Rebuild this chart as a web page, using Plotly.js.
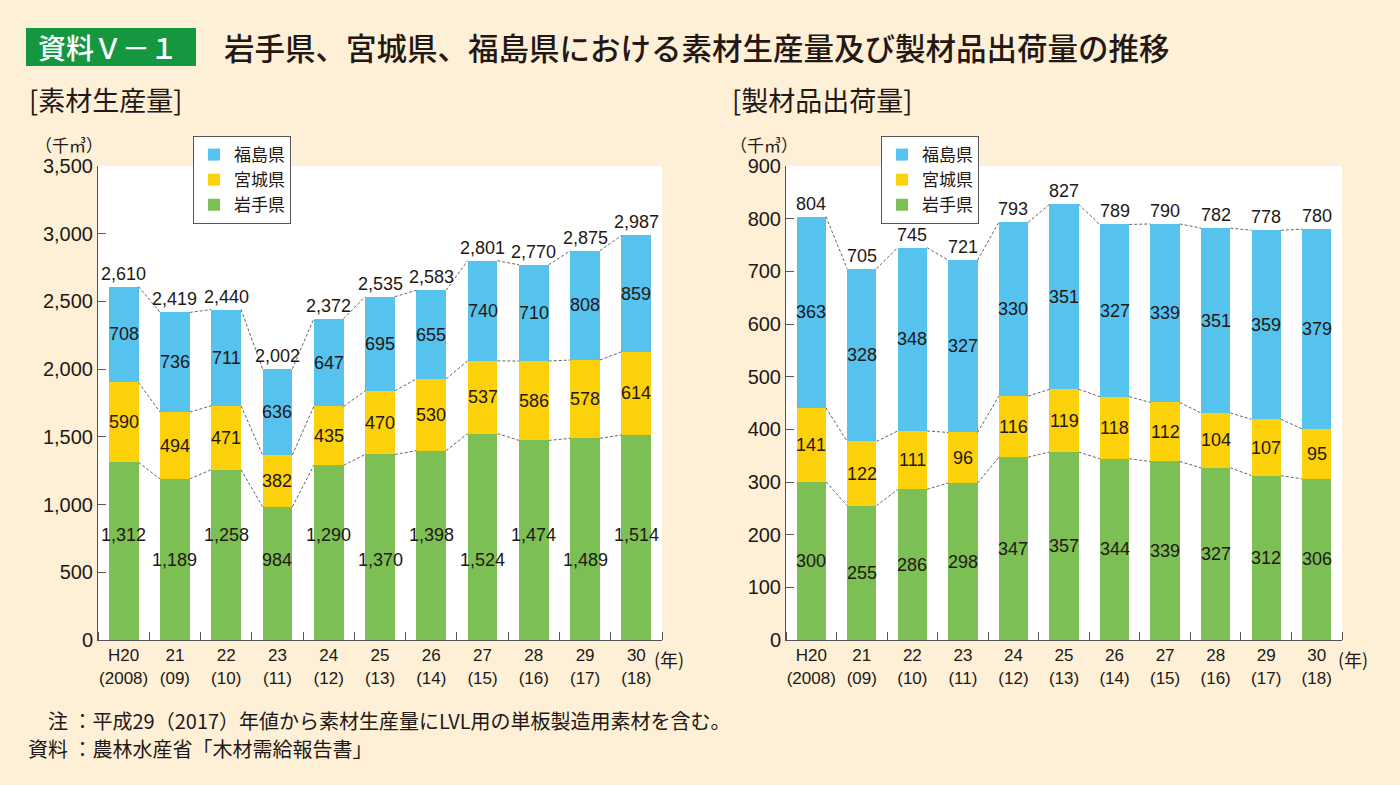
<!DOCTYPE html>
<html><head><meta charset="utf-8">
<script src="https://cdn.plot.ly/plotly-3.0.1.min.js"></script>
<style>html,body{margin:0;padding:0;background:#fdf0d6;} #chart{width:1400px;height:785px;}</style>
</head><body><div id="chart"></div>
<script>
// ---- data ----
const years = ['H20<br>(2008)','21<br>(09)','22<br>(10)','23<br>(11)','24<br>(12)','25<br>(13)','26<br>(14)','27<br>(15)','28<br>(16)','29<br>(17)','30<br>(18)'];
const seriesNames = ['岩手県','宮城県','福島県'];
// 素材生産量 (千m3)
const prodIwate     = [1312,1189,1258,984,1290,1370,1398,1524,1474,1489,1514];
const prodMiyagi    = [590,494,471,382,435,470,530,537,586,578,614];
const prodFukushima = [708,736,711,636,647,695,655,740,710,808,859];
const prodTotal     = [2610,2419,2440,2002,2372,2535,2583,2801,2770,2875,2987];
// 製材品出荷量 (千m3)
const shipIwate     = [300,255,286,298,347,357,344,339,327,312,306];
const shipMiyagi    = [141,122,111,96,116,119,118,112,104,107,95];
const shipFukushima = [363,328,348,327,330,351,327,339,351,359,379];
const shipTotal     = [804,705,745,721,793,827,789,790,782,778,780];

// ---- style ----
const COLORS = ['#7cbf55','#fdd10a','#56c2ee'];
const BG = '#fdf0d6';
const TXT = '#231815';
const JP = 'Noto Sans CJK JP, sans-serif';
const NUM = 'Liberation Sans, Arial, Noto Sans CJK JP, sans-serif';
const W = 0.58;
const X = years.map((_, i) => i);
const px = x => x / 1400, py = y => 1 - y / 785;
const fmt = v => v.toLocaleString('en-US');

const traces = [];
const annotations = [];

function panel(xa, ya, legend, showLegend, series, totals, iwateLabelY) {
  const cum = [];
  let base = X.map(() => 0);
  series.forEach((vals, k) => {
    traces.push({
      type: 'bar', x: X, y: vals, width: W, name: seriesNames[k],
      marker: {color: COLORS[k], line: {width: 0}},
      xaxis: xa, yaxis: ya, legend: legend, showlegend: showLegend, hoverinfo: 'skip'
    });
    const top = vals.map((v, i) => base[i] + v);
    vals.forEach((v, i) => {
      const yv = (k === 0 && iwateLabelY) ? iwateLabelY(i) : base[i] + v / 2;
      annotations.push({x: i, y: yv, xref: xa, yref: ya, text: fmt(v), showarrow: false,
        font: {size: 18, color: TXT, family: NUM}});
    });
    cum.push(top);
    base = top;
  });
  cum.forEach(top => {
    const xs = [], ys = [];
    for (let i = 0; i < top.length - 1; i++) {
      xs.push(i + W / 2, i + 1 - W / 2, null);
      ys.push(top[i], top[i + 1], null);
    }
    traces.push({type: 'scatter', mode: 'lines', x: xs, y: ys, xaxis: xa, yaxis: ya,
      line: {color: '#666', width: 1, dash: '3px,2px'}, showlegend: false, hoverinfo: 'skip'});
  });
  totals.forEach((v, i) => {
    annotations.push({x: i, y: v, xref: xa, yref: ya, text: fmt(v), showarrow: false,
      yanchor: 'bottom', yshift: 1, font: {size: 18, color: TXT, family: NUM}});
  });
}

panel('x', 'y', 'legend', true, [prodIwate, prodMiyagi, prodFukushima], prodTotal,
      i => (i % 2 === 0 ? 775 : 590));
panel('x2', 'y2', 'legend2', true, [shipIwate, shipMiyagi, shipFukushima], shipTotal, null);

const bounds = X.map(i => i - 0.5).concat([X.length - 0.5]);
function xax(dom, anchor) {
  return {domain: dom, anchor: anchor, range: [-0.5, 10.5], tickmode: 'array', tickvals: X, ticktext: years,
    ticks: '', showline: true, linecolor: '#555', linewidth: 1, showgrid: false, zeroline: false,
    tickfont: {size: 17, color: TXT, family: NUM}, fixedrange: true,
    minor: {tickmode: 'array', tickvals: bounds, ticks: 'inside', ticklen: 8, tickcolor: '#555', tickwidth: 1, showgrid: false}};
}
function yax(dom, anchor, max, dt) {
  return {domain: dom, anchor: anchor, range: [0, max], dtick: dt, tickformat: ',',
    ticks: 'inside', ticklen: 8, tickcolor: '#555', showline: true, linecolor: '#555', linewidth: 1,
    showgrid: false, zeroline: false, tickfont: {size: 20, color: TXT, family: NUM}, fixedrange: true};
}

const txt = (x, y, text, size, opts) => Object.assign({xref: 'paper', yref: 'paper', x: px(x), y: py(y),
  text: text, showarrow: false, xanchor: 'left', yanchor: 'middle', font: {size: size, color: TXT, family: JP}}, opts || {});
annotations.push(
  txt(36, 47, '資料Ｖ－１', 28, {font: {size: 28, color: '#ffffff', family: JP, weight: 500}}),
  txt(222, 47, '岩手県、宮城県、福島県における素材生産量及び製材品出荷量の推移', 30.5, {font: {size: 30.5, color: TXT, family: JP, weight: 500}}),
  txt(27, 100, '[素材生産量]', 27),
  txt(730, 100, '[製材品出荷量]', 27),
  txt(33, 145, '（千㎥）', 17),
  txt(728, 145, '（千㎥）', 17),
  txt(652, 659, '(年)', 18),
  txt(1336, 659, '(年)', 18),
  txt(26, 720, '　注 ：平成29（2017）年値から素材生産量にLVL用の単板製造用素材を含む。', 20),
  txt(26, 748, '資料 ：農林水産省「木材需給報告書」', 20)
);

const legendStyle = (x) => ({x: px(x), y: py(136), xanchor: 'left', yanchor: 'top', traceorder: 'reversed',
  bgcolor: '#ffffff', bordercolor: '#555', borderwidth: 1, font: {size: 17, color: TXT, family: JP},
  itemclick: false, itemdoubleclick: false, tracegroupgap: 0});

const layout = {
  width: 1400, height: 785, margin: {l: 0, r: 0, t: 0, b: 0},
  paper_bgcolor: BG, plot_bgcolor: '#ffffff', barmode: 'stack', showlegend: true,
  xaxis: xax([px(98), px(662)], 'y'),
  yaxis: yax([1 - 640 / 785, 1 - 166 / 785], 'x', 3500, 500),
  xaxis2: xax([px(786), px(1342)], 'y2'),
  yaxis2: yax([1 - 640 / 785, 1 - 166 / 785], 'x2', 900, 100),
  legend: legendStyle(193),
  legend2: legendStyle(881),
  shapes: [{type: 'rect', xref: 'paper', yref: 'paper', x0: px(26), x1: px(196), y0: py(66), y1: py(28),
    fillcolor: '#14973f', line: {width: 0}, layer: 'below'}],
  annotations: annotations
};
Plotly.newPlot('chart', traces, layout, {displayModeBar: false, staticPlot: true});
</script></body></html>
